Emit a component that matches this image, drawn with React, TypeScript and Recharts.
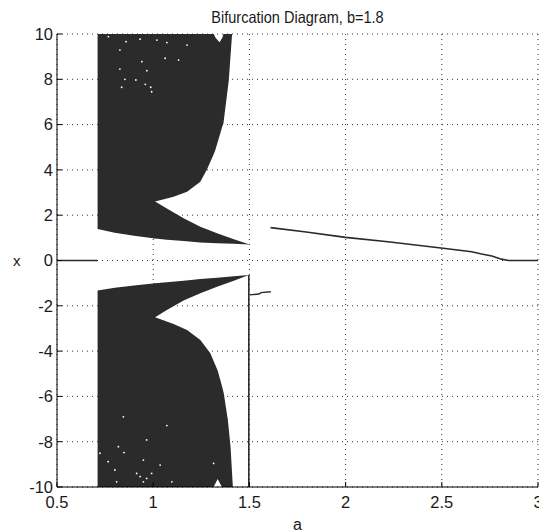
import {
  ComposedChart,
  Area,
  Line,
  Scatter,
  XAxis,
  YAxis,
  CartesianGrid,
} from "recharts";

// axes
const aTicks = [0.5, 1, 1.5, 2, 2.5, 3];
const xTicks = [-10, -8, -6, -4, -2, 0, 2, 4, 6, 8, 10];

// upper chaotic region, the big part (left column + above the notch)
const upperMainA = [0.711, 0.8, 0.9, 1.0, 1.01, 1.01, 1.106, 1.176, 1.245, 1.28, 1.315, 1.323, 1.345, 1.36, 1.365, 1.393, 1.41];
const upperMainLow = [1.39, 1.22, 1.09, 0.98, 0.97, 2.6, 2.82, 3.04, 3.48, 4.03, 4.7, 4.88, 5.51, 5.94, 6.05, 7.97, 10];
const upperMainHigh = [10, 10, 10, 10, 10, 10, 10, 10, 10, 10, 10, 9.85, 9.64, 9.85, 10, 10, 10];

// upper thin band under the notch
const upperBandA = [1.0, 1.01, 1.071, 1.158, 1.245, 1.332, 1.419, 1.497];
const upperBandLow = [0.98, 0.97, 0.92, 0.86, 0.79, 0.76, 0.735, 0.71];
const upperBandHigh = [2.65, 2.6, 2.3, 1.86, 1.49, 1.2, 0.94, 0.72];

// lower chaotic region, big part
const lowerMainA = [0.711, 0.8, 0.9, 1.0, 1.01, 1.01, 1.106, 1.176, 1.245, 1.297, 1.314, 1.335, 1.357, 1.367, 1.388, 1.402, 1.41, 1.414];
const lowerMainLow = [-10, -10, -10, -10, -10, -10, -10, -10, -10, -10, -10, -9.65, -10, -10, -10, -10, -10, -10];
const lowerMainHigh = [-1.33, -1.2, -1.1, -1.01, -1.0, -2.51, -2.8, -3.07, -3.51, -4.1, -4.44, -4.86, -5.53, -5.87, -7.04, -8.22, -9.4, -10];

// lower thin band above the notch
const lowerBandA = [1.0, 1.01, 1.071, 1.158, 1.245, 1.332, 1.419, 1.497];
const lowerBandLow = [-2.56, -2.51, -2.19, -1.77, -1.45, -1.16, -0.89, -0.64];
const lowerBandHigh = [-1.01, -1.0, -0.96, -0.89, -0.82, -0.76, -0.7, -0.64];

// fixed point branches
const zeroLeftA = [0.5, 0.711];
const zeroLeftX = [0, 0];
const rightBranchA = [1.61, 1.785, 2.0, 2.22, 2.507, 2.655, 2.707, 2.76, 2.81, 2.847, 3.0];
const rightBranchX = [1.45, 1.27, 1.02, 0.83, 0.54, 0.39, 0.29, 0.2, 0.06, 0.0, 0.0];
const dropA = [1.497, 1.497];
const dropX = [-0.64, -10];
const stubA = [1.503, 1.55, 1.56, 1.611];
const stubX = [-1.52, -1.48, -1.42, -1.38];

// white gaps inside the dark regions
const gapA = [0.767, 0.859, 0.932, 1.019, 1.071, 1.176, 0.827, 0.941, 1.062, 1.132, 0.827, 0.967, 0.853, 0.91, 0.959, 0.987, 0.836, 0.992,
  0.723, 0.766, 0.819, 0.845, 0.801, 0.848, 0.966, 0.949, 1.071, 0.914, 0.932, 0.966, 0.992, 1.036, 1.097, 1.314, 0.81, 0.949];
const gapX = [9.88, 9.66, 9.77, 9.73, 9.62, 9.51, 9.29, 8.78, 8.93, 8.85, 8.45, 8.38, 8.0, 7.97, 7.78, 7.65, 7.65, 7.45,
  -8.51, -8.88, -8.22, -6.9, -9.25, -8.48, -7.92, -8.81, -7.29, -9.4, -9.54, -9.62, -9.4, -9.03, -9.77, -8.96, -9.77, -9.77];

const toBand = (as: number[], lows: number[], highs: number[]) =>
  as.map((a, i) => ({ a, band: [lows[i], highs[i]] }));
const toPoints = (as: number[], xs: number[]) => as.map((a, i) => ({ a, x: xs[i] }));

const fillColor = "#2b2b2b";
const lineColor = "#2a2a2a";
const textColor = "#1a1a1a";

const WhiteDot = (props: any) => <circle cx={props.cx} cy={props.cy} r={0.9} fill="#ffffff" />;

export default function App() {
  return (
    <div
      style={{
        position: "absolute",
        left: 0,
        top: 0,
        width: 539,
        height: 532,
        background: "#ffffff",
        fontFamily: '"Liberation Sans", Arial, sans-serif',
      }}
    >
      <div
        style={{
          position: "absolute",
          left: 57,
          top: 9,
          width: 481,
          textAlign: "center",
          fontSize: 16.5,
          lineHeight: "16px",
          color: textColor,
          transform: "scaleX(0.88)",
          whiteSpace: "nowrap",
        }}
      >
        Bifurcation Diagram, b=1.8
      </div>
      <ComposedChart width={539} height={532} margin={{ top: 34, right: 1, bottom: 0, left: 0 }}>
        <CartesianGrid stroke="#333" strokeDasharray="1 4" strokeWidth={1} />
        <XAxis
          type="number"
          dataKey="a"
          domain={[0.5, 3]}
          ticks={aTicks}
          interval={0}
          allowDataOverflow
          height={45}
          tickSize={-5}
          tickMargin={14}
          stroke="#000"
          tick={{ fill: textColor, fontSize: 16.5 }}
          tickFormatter={(v: number) => String(v)}
          label={{ value: "a", position: "insideBottom", offset: 2, fill: textColor, fontSize: 16 }}
        />
        <YAxis
          type="number"
          dataKey="x"
          domain={[-10, 10]}
          ticks={xTicks}
          interval={0}
          allowDataOverflow
          width={57}
          tickSize={-5}
          tickMargin={9}
          stroke="#000"
          tick={{ fill: textColor, fontSize: 16.5 }}
          label={{ value: "x", position: "insideLeft", offset: 13, fill: textColor, fontSize: 15 }}
        />
        <Area data={toBand(upperMainA, upperMainLow, upperMainHigh)} dataKey="band" type="linear" stroke="none" fill={fillColor} fillOpacity={1} isAnimationActive={false} />
        <Area data={toBand(upperBandA, upperBandLow, upperBandHigh)} dataKey="band" type="linear" stroke="none" fill={fillColor} fillOpacity={1} isAnimationActive={false} />
        <Area data={toBand(lowerMainA, lowerMainLow, lowerMainHigh)} dataKey="band" type="linear" stroke="none" fill={fillColor} fillOpacity={1} isAnimationActive={false} />
        <Area data={toBand(lowerBandA, lowerBandLow, lowerBandHigh)} dataKey="band" type="linear" stroke="none" fill={fillColor} fillOpacity={1} isAnimationActive={false} />
        <Line data={toPoints(zeroLeftA, zeroLeftX)} dataKey="x" type="linear" stroke={lineColor} strokeWidth={1.6} dot={false} isAnimationActive={false} />
        <Line data={toPoints(rightBranchA, rightBranchX)} dataKey="x" type="linear" stroke={lineColor} strokeWidth={1.6} dot={false} isAnimationActive={false} />
        <Line data={toPoints(dropA, dropX)} dataKey="x" type="linear" stroke={lineColor} strokeWidth={1.6} dot={false} isAnimationActive={false} />
        <Line data={toPoints(stubA, stubX)} dataKey="x" type="linear" stroke={lineColor} strokeWidth={1.4} dot={false} isAnimationActive={false} />
        <Scatter data={toPoints(gapA, gapX)} dataKey="x" shape={WhiteDot} isAnimationActive={false} />
      </ComposedChart>
    </div>
  );
}
